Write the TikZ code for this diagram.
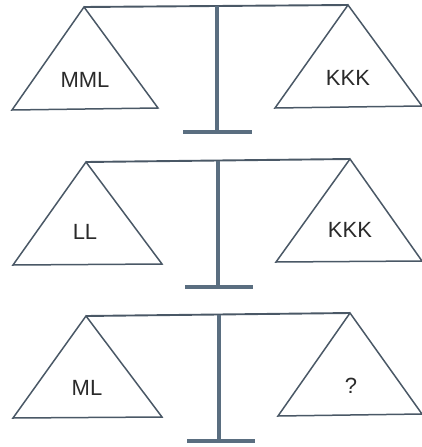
\documentclass[tikz,border=0pt]{standalone}
\usepackage{fontspec}
\setmainfont{Liberation Sans}
\definecolor{linec}{HTML}{4A5866}
\definecolor{stemc}{HTML}{5A6E80}
\definecolor{textc}{HTML}{2A2A2A}
\begin{document}
\begin{tikzpicture}[x=1pt,y=-1pt,
  pan/.style={draw=linec,line width=1.5pt,line join=miter},
  beam/.style={draw=linec,line width=1.9pt},
  stem/.style={draw=stemc,line width=3.2pt},
  foot/.style={draw=stemc,line width=4pt},
  lbl/.style={text=textc,font=\fontsize{22}{24}\selectfont,inner sep=0pt}]
\useasboundingbox (0,0) rectangle (421,447);
% scale 1
\coordinate (a1l) at (84,7);
\coordinate (a1r) at (348,5);
\coordinate (s1t) at (217,6);
\coordinate (s1b) at (217,131);
\coordinate (f1l) at (183,132);
\coordinate (f1r) at (252,132);
\draw[beam] (a1l) -- (a1r);
\draw[stem] (s1t) -- (s1b);
\draw[foot] (f1l) -- (f1r);
\draw[pan] (a1l) -- (12,110) -- (158,108) -- cycle;
\draw[pan] (a1r) -- (275,108) -- (422,106) -- cycle;
\node[lbl] (t1l) at (85,80) {MML};
\node[lbl] (t1r) at (348,78) {KKK};
% scale 2
\coordinate (a2l) at (86,162);
\coordinate (a2r) at (350,159);
\coordinate (s2t) at (218,161);
\coordinate (s2b) at (218,286);
\coordinate (f2l) at (185,287);
\coordinate (f2r) at (253,287);
\draw[beam] (a2l) -- (a2r);
\draw[stem] (s2t) -- (s2b);
\draw[foot] (f2l) -- (f2r);
\draw[pan] (a2l) -- (13,265) -- (162,264) -- cycle;
\draw[pan] (a2r) -- (276,262) -- (422,261) -- cycle;
\node[lbl] (t2l) at (85,232) {LL};
\node[lbl] (t2r) at (350,230) {KKK};
% scale 3
\coordinate (a3l) at (86,316);
\coordinate (a3r) at (350,313);
\coordinate (s3t) at (219,315);
\coordinate (s3b) at (219,440);
\coordinate (f3l) at (187,441);
\coordinate (f3r) at (255,441);
\draw[beam] (a3l) -- (a3r);
\draw[stem] (s3t) -- (s3b);
\draw[foot] (f3l) -- (f3r);
\draw[pan] (a3l) -- (13,418) -- (162,417) -- cycle;
\draw[pan] (a3r) -- (278,416) -- (422,414) -- cycle;
\node[lbl] (t3l) at (87,388) {ML};
\node[lbl] (t3r) at (351,386) {?};
\end{tikzpicture}
\end{document}
